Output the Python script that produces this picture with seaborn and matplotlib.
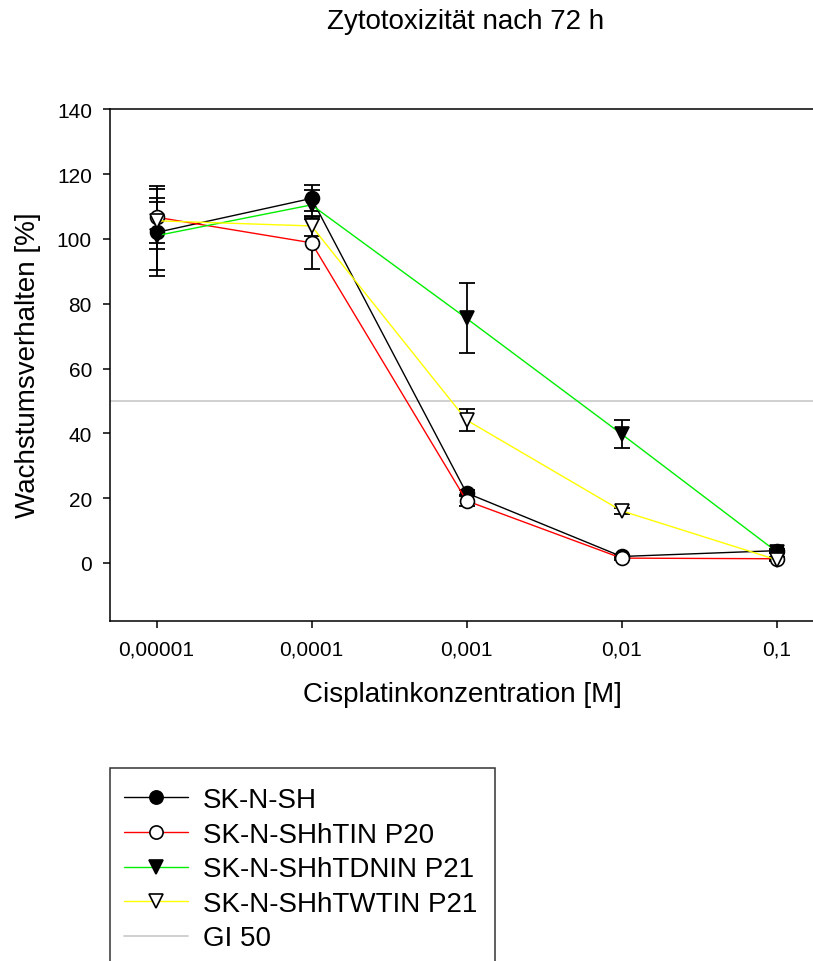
import numpy as np
import pandas as pd
import matplotlib
matplotlib.use("Agg")
import matplotlib.pyplot as plt
import seaborn as sns
from matplotlib.patches import Rectangle

# Daten (Cisplatin, 72 h)
conc = [1e-5, 1e-4, 1e-3, 1e-2, 1e-1]
conc_labels = ["0,00001", "0,0001", "0,001", "0,01", "0,1"]

sh = [102.0, 112.5, 21.6, 2.0, 3.8]
sh_err = [13.5, 4.0, 1.0, 0.5, 0.5]
tin = [106.7, 98.8, 19.2, 1.5, 1.3]
tin_err = [9.7, 8.0, 1.7, 0.5, 0.5]
tdnin = [101.0, 110.5, 75.5, 39.8, 3.5]
tdnin_err = [10.5, 4.5, 10.8, 4.2, 0.5]
twtin = [105.6, 104.0, 44.1, 16.1, 1.0]
twtin_err = [7.0, 3.0, 3.3, 1.0, 0.5]
gi50 = 50

series = [
    ("SK-N-SH", sh, sh_err, "#000000", "o", "#000000"),
    ("SK-N-SHhTIN P20", tin, tin_err, "#ff0000", "o", "#ffffff"),
    ("SK-N-SHhTDNIN P21", tdnin, tdnin_err, "#00ee00", "v", "#000000"),
    ("SK-N-SHhTWTIN P21", twtin, twtin_err, "#ffff00", "v", "#ffffff"),
]

sns.set_style("ticks")
plt.rcParams["font.family"] = ["Liberation Sans", "DejaVu Sans"]
plt.rcParams["text.color"] = "black"
plt.rcParams["axes.labelcolor"] = "black"

fig = plt.figure(figsize=(8.13, 9.62), dpi=100)
ax = fig.add_axes([110 / 813, 1 - 622.3 / 962, 713 / 813, 512 / 962])

ax.axhline(gi50, color="#c8c8c8", lw=1.2, zorder=1)

for name, vals, err, col, mk, face in series:
    df = pd.DataFrame({"conc": conc, "val": vals})
    ax.errorbar(conc, vals, yerr=err, fmt="none", ecolor="black",
                elinewidth=1.3, capsize=5.5, capthick=1.3, zorder=2)
    sns.lineplot(data=df, x="conc", y="val", ax=ax, color=col, lw=1.0,
                 marker=mk, markersize=10, markerfacecolor=face,
                 markeredgecolor="black", markeredgewidth=1.2,
                 label=name, zorder=3, legend=False)

ax.set_xscale("log")
ax.set_xlim(10 ** -5.3, 10 ** -0.7)
ax.set_ylim(-18, 140)
ax.set_xticks(conc)
ax.set_xticklabels(conc_labels)
ax.minorticks_off()
ax.set_yticks(range(0, 141, 20))

for s in ["left", "bottom", "top"]:
    ax.spines[s].set_linewidth(1.1)
    ax.spines[s].set_color("black")
ax.spines["right"].set_visible(False)
ax.tick_params(direction="out", length=5, width=1.1, labelsize=15, pad=8, colors="black")

ax.set_xlabel("Cisplatinkonzentration [M]", fontsize=20)
ax.set_ylabel("Wachstumsverhalten [%]", fontsize=20)
ax.xaxis.set_label_coords(0.4937, -0.117)
ax.yaxis.set_label_coords(-0.097, 0.5025)

fig.text(466 / 813, 1 - 22 / 962, "Zytotoxizität nach 72 h", fontsize=20,
         ha="center", va="center")

# Legende
names = [s[0] for s in series]
lines = [l for l in ax.get_lines() if l.get_label() in names]
gi_handle = plt.Line2D([], [], color="#c8c8c8", lw=1.2)
leg = fig.legend(lines + [gi_handle], names + ["GI 50"],
                 loc="upper left", bbox_to_anchor=(124 / 813, 1 - 788 / 962),
                 frameon=False, fontsize=20, handlelength=2.3, handletextpad=0.55,
                 labelspacing=0.31, borderpad=0, borderaxespad=0, markerscale=0.95)
fig.patches.append(Rectangle((110 / 813, -0.05), (495 - 110) / 813, 0.05 + 1 - 769 / 962,
                             transform=fig.transFigure, fill=False,
                             edgecolor="#333333", lw=1.1))

fig.savefig("out.png", dpi=100)
